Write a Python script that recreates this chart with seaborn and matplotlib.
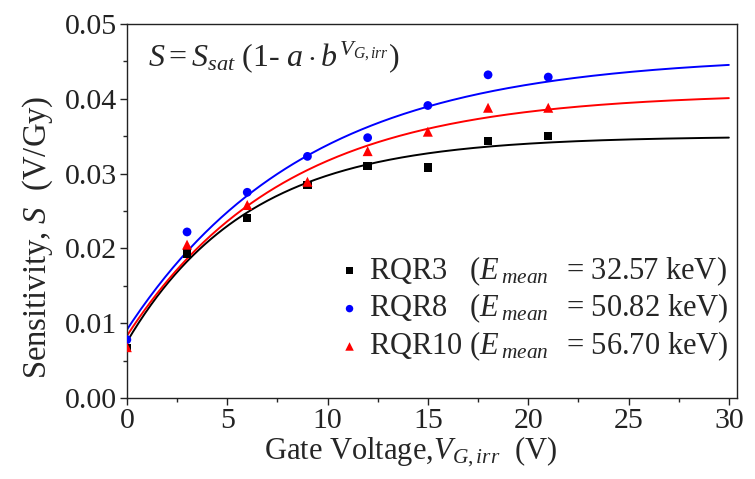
import numpy as np
import pandas as pd
import matplotlib
matplotlib.use("Agg")
import matplotlib.pyplot as plt
import seaborn as sns
from matplotlib.ticker import MultipleLocator

# ---- data ----
voltage = [0, 3, 6, 9, 12, 15, 18, 21]
rqr3 = [0.0067, 0.0193, 0.0241, 0.0285, 0.0310, 0.0308, 0.0344, 0.0350]
rqr8 = [0.0078, 0.0222, 0.0275, 0.0323, 0.0348, 0.0391, 0.0432, 0.0429]
rqr10 = [0.0068, 0.0205, 0.0258, 0.0289, 0.0330, 0.0356, 0.0388, 0.0388]

series_names = ["RQR3", "RQR8", "RQR10"]
series_labels = [r"RQR3   ($E_{\,mean\,}$  = 32.57 keV)",
                 r"RQR8   ($E_{\,mean\,}$  = 50.82 keV)",
                 r"RQR10 ($E_{\,mean\,}$  = 56.70 keV)"]
# fit parameters S = Ssat (1 - a b^V)
fit_ssat = [0.0350, 0.0458, 0.0408]
fit_a = [0.786, 0.801, 0.7966]
fit_b = [0.8474, 0.8941, 0.8804]
fit_v = np.linspace(0, 30, 301)

colors = ["#000000", "#0000FF", "#FF0000"]
markers = ["s", "o", "^"]
msizes = [36, 40, 52]

sns.set_style("ticks")
plt.rcParams["font.family"] = ["Liberation Serif", "DejaVu Serif"]
plt.rcParams["mathtext.fontset"] = "custom"
plt.rcParams["mathtext.rm"] = "Liberation Serif"
plt.rcParams["mathtext.it"] = "Liberation Serif:italic"
plt.rcParams["mathtext.bf"] = "Liberation Serif:bold"

fig = plt.figure(figsize=(7.55, 4.79), dpi=100)
ax = fig.add_axes([0.168, 0.169, 0.808, 0.781])

values = [rqr3, rqr8, rqr10]
for i, name in enumerate(series_names):
    fit_s = fit_ssat[i] * (1 - fit_a[i] * np.power(fit_b[i], fit_v))
    fdf = pd.DataFrame({"V": fit_v, "S": fit_s})
    sns.lineplot(data=fdf, x="V", y="S", color=colors[i], lw=1.4, ax=ax,
                 legend=False, zorder=2)
for i, name in enumerate(series_names):
    df = pd.DataFrame({"V": voltage, "S": values[i]})
    sns.scatterplot(data=df, x="V", y="S", color=colors[i], marker=markers[i],
                    s=msizes[i], edgecolor="none", ax=ax, label=series_labels[i],
                    zorder=3)

ax.set_xlim(0, 30.4)
ax.set_ylim(0, 0.05)
ax.xaxis.set_major_locator(MultipleLocator(5))
ax.xaxis.set_minor_locator(MultipleLocator(2.5))
ax.yaxis.set_major_locator(MultipleLocator(0.01))
ax.yaxis.set_minor_locator(MultipleLocator(0.005))
ax.yaxis.set_major_formatter(matplotlib.ticker.FormatStrFormatter("%.2f"))
ax.tick_params(which="major", direction="out", length=5, width=1.0,
               labelsize=21.5, colors="#222222", pad=2)
ax.tick_params(which="minor", direction="out", length=3, width=1.0)
for sp in ax.spines.values():
    sp.set_linewidth(1.0)
    sp.set_color("#222222")

ax.set_xlabel(r"Gate Voltage,$V_{G,irr}$  (V)", fontsize=22, labelpad=1)
ax.xaxis.label.set_x(0.466)
ax.set_ylabel(r"Sensitivity, $S$  (V/Gy)", fontsize=23.5, labelpad=7)
ax.yaxis.label.set_y(0.43)

ax.text(0.035, 0.96, r"$S = S_{sat}\ (1\mathrm{\text{-}}\ a\cdot b^{V_{G,irr}})$",
        transform=ax.transAxes, fontsize=23, va="top", ha="left")

leg = ax.legend(loc="upper left", frameon=False, fontsize=22,
                handletextpad=0.15, labelspacing=0.14, borderaxespad=0.0,
                borderpad=0.0, handlelength=1.0, markerscale=0.85,
                bbox_to_anchor=(0.34, 0.385))

fig.savefig("out.png", dpi=100)
